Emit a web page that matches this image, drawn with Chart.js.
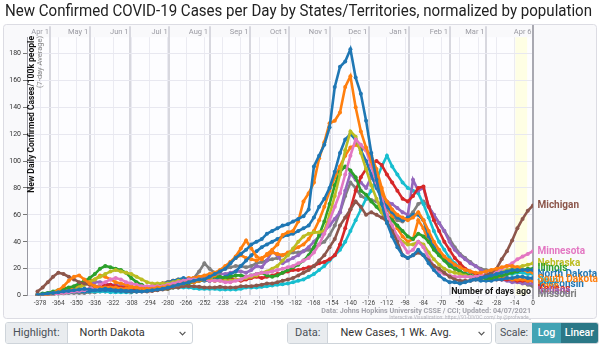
<!DOCTYPE html>
<html>
<head>
<meta charset="utf-8">
<script src="https://cdn.jsdelivr.net/npm/chart.js@4.4.1/dist/chart.umd.min.js"></script>
<style>
  html, body { margin:0; padding:0; background:#fff; }
  body { width:600px; height:344px; overflow:hidden; position:relative; font-family:Roboto, "Liberation Sans", sans-serif; }
  #chart { position:absolute; left:0; top:0; }
  .ctl { position:absolute; top:322px; height:22px; box-sizing:border-box; border:1px solid #ced4da; border-radius:3px;
         display:flex; overflow:hidden; background:#fff; font-size:11px; color:#495057; }
  .ctl .lab { background:#e9ecef; border-right:1px solid #ced4da; padding:0 7px; line-height:20px; }
  .ctl .sel { flex:1; padding:0 12px; line-height:20px; position:relative; color:#333; }
  .ctl .sel svg { position:absolute; right:6px; top:8px; }
  .ctl .btn { color:#fff; padding:0 4px; line-height:20px; font-weight:500; text-align:center; }
</style>
</head>
<body>
<canvas id="chart" width="600" height="320"></canvas>

<div class="ctl" style="left:5px;width:188px">
  <div class="lab">Highlight:</div>
  <div class="sel">North Dakota<svg width="7" height="5" viewBox="0 0 7 5"><path d="M0.6 0.8 L3.5 3.8 L6.4 0.8" fill="none" stroke="#555" stroke-width="1.2"/></svg></div>
</div>
<div class="ctl" style="left:287px;width:205px">
  <div class="lab">Data:</div>
  <div class="sel">New Cases, 1 Wk. Avg.<svg width="7" height="5" viewBox="0 0 7 5"><path d="M0.6 0.8 L3.5 3.8 L6.4 0.8" fill="none" stroke="#555" stroke-width="1.2"/></svg></div>
</div>
<div class="ctl" style="left:495px;width:104px;font-size:10.5px">
  <div class="lab" style="border-right:none;padding:0 4px">Scale:</div>
  <div class="btn" style="background:#42a3b4;width:22px">Log</div>
  <div class="btn" style="background:#2b7887;flex:1">Linear</div>
</div>

<script>
// Days relative to 04/06/2021 (every 4th day)
const days = [
  -380,-376,-372,-368,-364,-360,-356,-352,
  -348,-344,-340,-336,-332,-328,-324,-320,
  -316,-312,-308,-304,-300,-296,-292,-288,
  -284,-280,-276,-272,-268,-264,-260,-256,
  -252,-248,-244,-240,-236,-232,-228,-224,
  -220,-216,-212,-208,-204,-200,-196,-192,
  -188,-184,-180,-176,-172,-168,-164,-160,
  -156,-152,-148,-144,-140,-136,-132,-128,
  -124,-120,-116,-112,-108,-104,-100,-96,
  -92,-88,-84,-80,-76,-72,-68,-64,
  -60,-56,-52,-48,-44,-40,-36,-32,
  -28,-24,-20,-16,-12,-8,-4,0
];

// New daily cases per 100k people, 7-day average
const northDakota = [
  0.5,1,1.5,2,2.5,3,3.5,4,
  4.5,5,4.5,4,4.5,5,4.5,4,
  4,3.5,3.5,3,3,3.5,4,4.5,
  5,6,7,8,9,10,11,12,
  12,14,16,18,20,24,28,31,
  34,38,40,42,46,48,50,52,
  53,55,57,59,64,96,104,112,
  125,155,170,174,183,162,150,130,
  106,86,68,54,44,36,30,28,
  30,34,30,24,19,15,12,10,
  10,9,10,11,12,13,14,15,
  16,17,18,19,19,19,19,19
];
const southDakota = [
  0.3,0.5,1,2,4,7,11,14,
  15,12,9,7,6,6,6,6,
  5,5,6,6,5,5,5,6,
  6,7,7,8,9,10,10,11,
  12,13,15,18,21,25,29,35,
  41,35,29,27,31,34,38,45,
  47,48,55,70,76,84,102,114,
  128,130,136,155,163,140,122,110,
  100,88,76,70,64,60,58,56,
  58,62,56,48,40,34,29,26,
  23,21,19,18,17,17,18,19,
  20,21,22,22,21,19,18,17
];
const michigan = [
  3,6,10,14,17,16,14,12,
  10,9,8,7,6,6,5,5,
  4,3.5,3,3,3,3,3.5,4,
  4.5,5,6,6,7,7,7,6.5,
  6,6,6,6.5,6,6,6,7,
  7,7,7.5,8,9,9,10,11,
  12,13,15,17,19,22,26,30,
  36,42,52,58,64,70,66,60,
  62,60,58,55,48,40,30,28,
  30,32,30,26,22,20,17,14,
  12,11,11,11,12,13,15,17,
  20,27,33,41,50,57,63,67
];
const minnesota = [
  0.5,0.5,1,1,1.5,2,2.5,3,
  3.5,4,5,6,8,10,12,13,
  12,10,9,8,7,7,7,7,
  7,8,9,10,11,12,12,12,
  12,11,11,11,10,10,11,12,
  14,15,16,17,17,18,19,20,
  21,22,24,26,28,32,38,46,
  56,66,76,90,104,116,112,108,
  96,84,72,60,52,44,38,32,
  34,40,36,28,22,18,16,15,
  14,14,14,14,14,15,15,16,
  18,20,22,24,27,29,31,33
];
const nebraska = [
  0.3,0.5,1,1,1.5,2,3,4,
  6,8,10,12,14,16,18,19,
  18,17,16,14,12,10,9,9,
  9,9,10,11,11,11,12,12,
  12,12,11,11,11,11,12,12,
  13,14,15,17,18,20,22,26,
  30,35,40,44,46,47,47,48,
  60,74,90,108,122,118,106,94,
  82,72,62,54,48,44,40,38,
  38,40,38,32,27,23,20,18,
  17,16,15,14,14,14,15,16,
  17,18,19,20,21,22,23,24
];
const illinois = [
  1,1.5,2,3,4,5,6,7,
  9,11,13,16,20,22,21,20,
  19,17,13,10,8,6,5,5,
  5,5,6,7,8,9,10,11,
  12,13,14,14,13,14,15,15,
  14,15,16,17,15,14,15,17,
  19,21,23,26,30,36,45,55,
  68,82,92,96,93,88,78,75,
  70,66,62,60,56,52,48,44,
  42,46,44,40,34,30,26,22,
  20,18,16,15,14,13,13,13,
  14,15,16,17,18,19,20,20
];
const wisconsin = [
  0.3,0.5,0.8,1,1.5,2,2.5,3,
  3,3,3.5,4,4,4,4,3.5,
  3.5,3,3,3.5,4,5,6,8,
  9,10,11,12,13,12,12,11,
  11,11,12,13,14,16,18,22,
  26,30,33,36,38,40,42,44,
  45,46,48,50,52,58,66,72,
  80,92,106,116,120,116,108,100,
  90,80,72,66,62,58,56,58,
  60,60,56,44,36,30,27,24,
  21,18,16,14,12,11,11,11,
  12,12,13,13,14,14,13,13
];
const iowa = [
  0.5,1,1.5,2,2.5,3,4,6,
  8,10,11,12,15,14,12,10,
  9,8,7,6,5,5,6,8,
  9,10,11,12,12,13,13,14,
  15,16,17,19,22,25,28,30,
  28,27,26,28,30,32,31,30,
  32,34,36,38,42,48,56,66,
  78,88,96,104,110,112,110,108,
  104,94,80,68,58,50,44,40,
  42,56,50,40,36,32,28,24,
  20,18,16,15,14,14,13,13,
  13,13,13,12,12,12,11,11
];
const kansas = [
  0.5,0.5,1,1.5,2,2.5,3,3.5,
  4,4.5,5,6,7,8,8,7,
  6,6,5,5,5,6,7,8,
  9,10,11,11,12,12,13,12,
  12,11,11,12,12,13,12,11,
  12,13,14,13,14,15,16,17,
  18,19,19,20,21,22,24,25,
  27,30,38,50,64,78,88,94,
  98,100,97,90,84,78,72,70,
  74,80,81,66,56,48,40,34,
  28,24,20,18,16,14,13,12,
  12,12,12,12,11,11,11,11
];
const indiana = [
  0.5,1,1.5,2,3,4,5,6,
  7,8,9,10,10,9,8,8,
  7,7,6,6,5,5,6,6,
  7,8,9,10,11,11,12,13,
  14,15,15,16,16,17,18,18,
  17,19,22,21,26,33,30,24,
  26,28,30,33,36,40,44,48,
  52,57,62,78,91,86,84,80,
  88,82,76,70,68,65,62,60,
  86,78,80,66,60,54,48,40,
  34,30,27,24,22,19,17,15,
  13,12,11,10,10,9,9,9
];
const ohio = [
  0.3,0.5,0.8,1,1.5,2,2.5,3,
  3,3,3,3,3,3,2.5,2.5,
  2.5,2.5,2.5,3,3.5,4,5,6,
  5,6,6,6,6,6,5.5,5,
  5,5,5,4.5,4.5,4.5,4.5,5,
  6,6,6,6.5,7,7.5,8,8.5,
  9,10,11,12,14,16,19,22,
  26,30,34,40,48,56,64,72,
  78,86,96,104,96,90,84,80,
  78,76,68,58,48,40,34,28,
  24,21,19,17,16,15,15,15,
  15,15,16,16,17,17,16,16
];
const missouri = [
  0.3,0.5,1,1,1.5,1.5,2,2,
  2,2,2.5,2.5,3,3,3,3,
  3,3,3,3,3.5,4,4.5,5,
  6,7,8,9,10,11,13,18,
  24,20,17,18,20,21,22,22,
  21,22,24,25,26,27,28,30,
  31,32,32,33,34,35,38,40,
  45,52,62,74,84,80,74,72,
  71,70,68,64,60,56,55,58,
  62,68,70,66,60,54,48,42,
  36,31,28,25,22,20,19,18,
  17,15,13,12,11,10,8,7
];

const stateNames  = ['North Dakota','South Dakota','Michigan','Minnesota','Nebraska','Illinois','Wisconsin','Iowa','Kansas','Indiana','Ohio','Missouri'];
const stateValues = [northDakota, southDakota, michigan, minnesota, nebraska, illinois, wisconsin, iowa, kansas, indiana, ohio, missouri];
const stateColors = ['#1f77b4','#ff7f0e','#8c564b','#e377c2','#bcbd22','#2ca02c','#1f77b4','#ff7f0e','#d62728','#9467bd','#17becf','#7f7f7f'];
// labels drawn underneath the others where they collide
const backLabels = ['Ohio','Wisconsin','Iowa','Kansas'];

const dayTicks = [-378,-364,-350,-336,-322,-308,-294,-280,-266,-252,-238,-224,-210,-196,-182,-168,-154,-140,-126,-112,-98,-84,-70,-56,-42,-28,-14,0];
const monthDays = [-370,-340,-309,-279,-248,-217,-187,-156,-126,-95,-64,-36,0];
const monthLabels = ['Apr 1','May 1','Jun 1','Jul 1','Aug 1','Sep 1','Oct 1','Nov 1','Dec 1','Jan 1','Feb 1','Mar 1','Apr 6'];
const yTicks = [0,20,40,60,80,100,120,140,160,180];

const FONT = 'Roboto, "Liberation Sans", sans-serif';

const datasets = stateNames.map((name, k) => ({
  label: name,
  data: days.map((d, i) => ({ x: d, y: stateValues[k][i] })),
  borderColor: stateColors[k],
  backgroundColor: stateColors[k],
  pointBackgroundColor: stateColors[k],
  xAxisID: 'x',
  yAxisID: 'y'
}));

// font size that makes a string span the given width
function fitSize(ctx, text, weight, width) {
  ctx.font = `${weight} 20px ${FONT}`;
  return 20 * width / ctx.measureText(text).width;
}

const panelPlugin = {
  id: 'panel',
  beforeDraw(chart) {
    const { ctx, chartArea: a } = chart;
    const xs = chart.scales.x;
    ctx.save();
    ctx.fillStyle = '#fff';
    ctx.fillRect(0, 0, chart.width, chart.height);
    ctx.beginPath();
    ctx.roundRect(3.5, 24.5, 593, 294, 3);
    ctx.fillStyle = '#f9f9fb';
    ctx.fill();
    ctx.strokeStyle = '#dcdce3';
    ctx.lineWidth = 1;
    ctx.stroke();
    ctx.fillStyle = '#fdfdff';
    ctx.fillRect(a.left, a.top, a.right - a.left, a.bottom - a.top);
    // most recent, still-incomplete days
    const b0 = xs.getPixelForValue(-13.5), b1 = xs.getPixelForValue(-4.5);
    ctx.fillStyle = 'rgba(255,255,205,0.55)';
    ctx.fillRect(b0, a.top, b1 - b0, a.bottom - a.top);
    ctx.restore();
  },
  beforeDatasetsDraw(chart) {
    const { ctx, chartArea: a } = chart;
    const x0 = chart.scales.x.getPixelForValue(0);
    ctx.save();
    ctx.strokeStyle = '#a9a9b1';
    ctx.lineWidth = 2;
    ctx.beginPath();
    ctx.moveTo(x0, 25);
    ctx.lineTo(x0, a.bottom + 4);
    ctx.stroke();
    // month names, right-aligned against their grid lines
    const xt = chart.scales.xTop;
    ctx.font = `400 7.5px ${FONT}`;
    ctx.fillStyle = '#9a9aa2';
    ctx.textAlign = 'right';
    ctx.textBaseline = 'middle';
    monthDays.forEach((d, i) => ctx.fillText(monthLabels[i], xt.getPixelForValue(d) - 1.5, 32));
    ctx.restore();
  }
};

const textPlugin = {
  id: 'texts',
  afterDraw(chart) {
    const { ctx, chartArea: a } = chart;
    const ys = chart.scales.y;
    ctx.save();

    // title
    const title = 'New Confirmed COVID-19 Cases per Day by States/Territories, normalized by population';
    ctx.font = `400 17px ${FONT}`;
    const tw = ctx.measureText(title).width;
    const sx = Math.min(1, 587 / tw);
    ctx.save();
    ctx.translate(5, 12);
    ctx.scale(sx, 1);
    ctx.fillStyle = '#222';
    ctx.textBaseline = 'middle';
    ctx.textAlign = 'left';
    ctx.fillText(title, 0, 0);
    ctx.restore();

    // y axis titles
    const yt1 = 'New Daily Confirmed Cases/100k people';
    const yt2 = '(7-day Average)';
    ctx.save();
    ctx.translate(32, 36);
    ctx.rotate(-Math.PI / 2);
    ctx.textAlign = 'right';
    ctx.textBaseline = 'middle';
    ctx.fillStyle = '#111';
    ctx.font = `700 ${fitSize(ctx, yt1, 700, 157)}px ${FONT}`;
    ctx.fillText(yt1, 0, 0);
    ctx.restore();
    ctx.save();
    ctx.translate(40.5, 36);
    ctx.rotate(-Math.PI / 2);
    ctx.textAlign = 'right';
    ctx.textBaseline = 'middle';
    ctx.fillStyle = '#888';
    ctx.font = `400 ${fitSize(ctx, yt2, 400, 52)}px ${FONT}`;
    ctx.fillText(yt2, 0, 0);
    ctx.restore();

    // footer texts
    ctx.textAlign = 'right';
    ctx.textBaseline = 'middle';
    const f1 = 'Number of days ago';
    ctx.fillStyle = '#111';
    ctx.font = `700 ${fitSize(ctx, f1, 700, 80)}px ${FONT}`;
    ctx.fillText(f1, 531, 292);
    const f2 = 'Data: Johns Hopkins University CSSE / CCI; Updated: 04/07/2021';
    ctx.fillStyle = '#a2a2aa';
    ctx.font = `700 ${fitSize(ctx, f2, 700, 210)}px ${FONT}`;
    ctx.fillText(f2, 531, 311);
    const f3 = 'Interactive Visualization: https://91-DIVOC.com/ by @profwade_';
    ctx.fillStyle = '#b4b4bc';
    ctx.font = `400 ${fitSize(ctx, f3, 400, 142)}px ${FONT}`;
    ctx.fillText(f3, 531, 317.5);

    // end-of-line state labels
    const items = chart.data.datasets.map(ds => ({
      name: ds.label,
      color: ds.borderColor,
      v: ds.data[ds.data.length - 1].y
    }));
    items.sort((p, q) => q.v - p.v);
    items.forEach(it => { it.py = ys.getPixelForValue(it.v); });
    for (let i = 1; i < items.length; i++) items[i].py = Math.max(items[i].py, items[i - 1].py + 5.5);
    let limit = 294;
    for (let i = items.length - 1; i >= 0; i--) {
      items[i].py = Math.min(items[i].py, limit);
      limit = items[i].py - 2.5;
    }
    ctx.textAlign = 'left';
    ctx.font = `700 10px ${FONT}`;
    const ordered = items.filter(it => backLabels.includes(it.name)).concat(items.filter(it => !backLabels.includes(it.name)));
    ordered.forEach(it => {
      ctx.fillStyle = it.color;
      ctx.fillText(it.name, a.right + 4.5, it.py);
    });
    ctx.restore();
  }
};

new Chart(document.getElementById('chart'), {
  type: 'line',
  data: { datasets },
  options: {
    responsive: false,
    animation: false,
    devicePixelRatio: 1,
    layout: { padding: { left: 0, right: 67, top: 0, bottom: 0 } },
    plugins: { legend: { display: false }, tooltip: { enabled: false }, title: { display: false } },
    elements: {
      line: { borderWidth: 2.6, tension: 0 },
      point: { radius: 2, borderWidth: 0, hoverRadius: 2 }
    },
    scales: {
      x: {
        type: 'linear', axis: 'x', position: 'bottom', min: -388, max: 0,
        afterBuildTicks: s => { s.ticks = dayTicks.map(v => ({ value: v })); },
        afterFit: s => { s.height = 24.4; },
        ticks: { autoSkip: false, maxRotation: 0, minRotation: 0, padding: 1, color: '#444',
                 font: { size: 6.5, family: FONT }, callback: v => String(v) },
        grid: { color: '#ebebf2', lineWidth: 1, tickLength: 3, tickColor: '#c4c4cc' },
        border: { display: false }
      },
      xTop: {
        type: 'linear', axis: 'x', position: 'top', min: -388, max: 0,
        afterBuildTicks: s => { s.ticks = monthDays.map(v => ({ value: v })); },
        afterFit: s => { s.height = 37.2; },
        ticks: { display: false },
        grid: { color: '#d8d8df', lineWidth: 2, tickLength: 11 },
        border: { display: false }
      },
      y: {
        type: 'linear', position: 'left', min: 0, max: 192,
        afterBuildTicks: s => { s.ticks = yTicks.map(v => ({ value: v })); },
        afterFit: s => { s.width = 27; },
        ticks: { padding: 2, color: '#333', font: { size: 7, family: FONT } },
        grid: { color: '#e8e8f0', lineWidth: 1, tickLength: 4, tickColor: '#777' },
        border: { display: true, color: '#9a9aa2', width: 1 }
      }
    }
  },
  plugins: [panelPlugin, textPlugin]
});
</script>
</body>
</html>
